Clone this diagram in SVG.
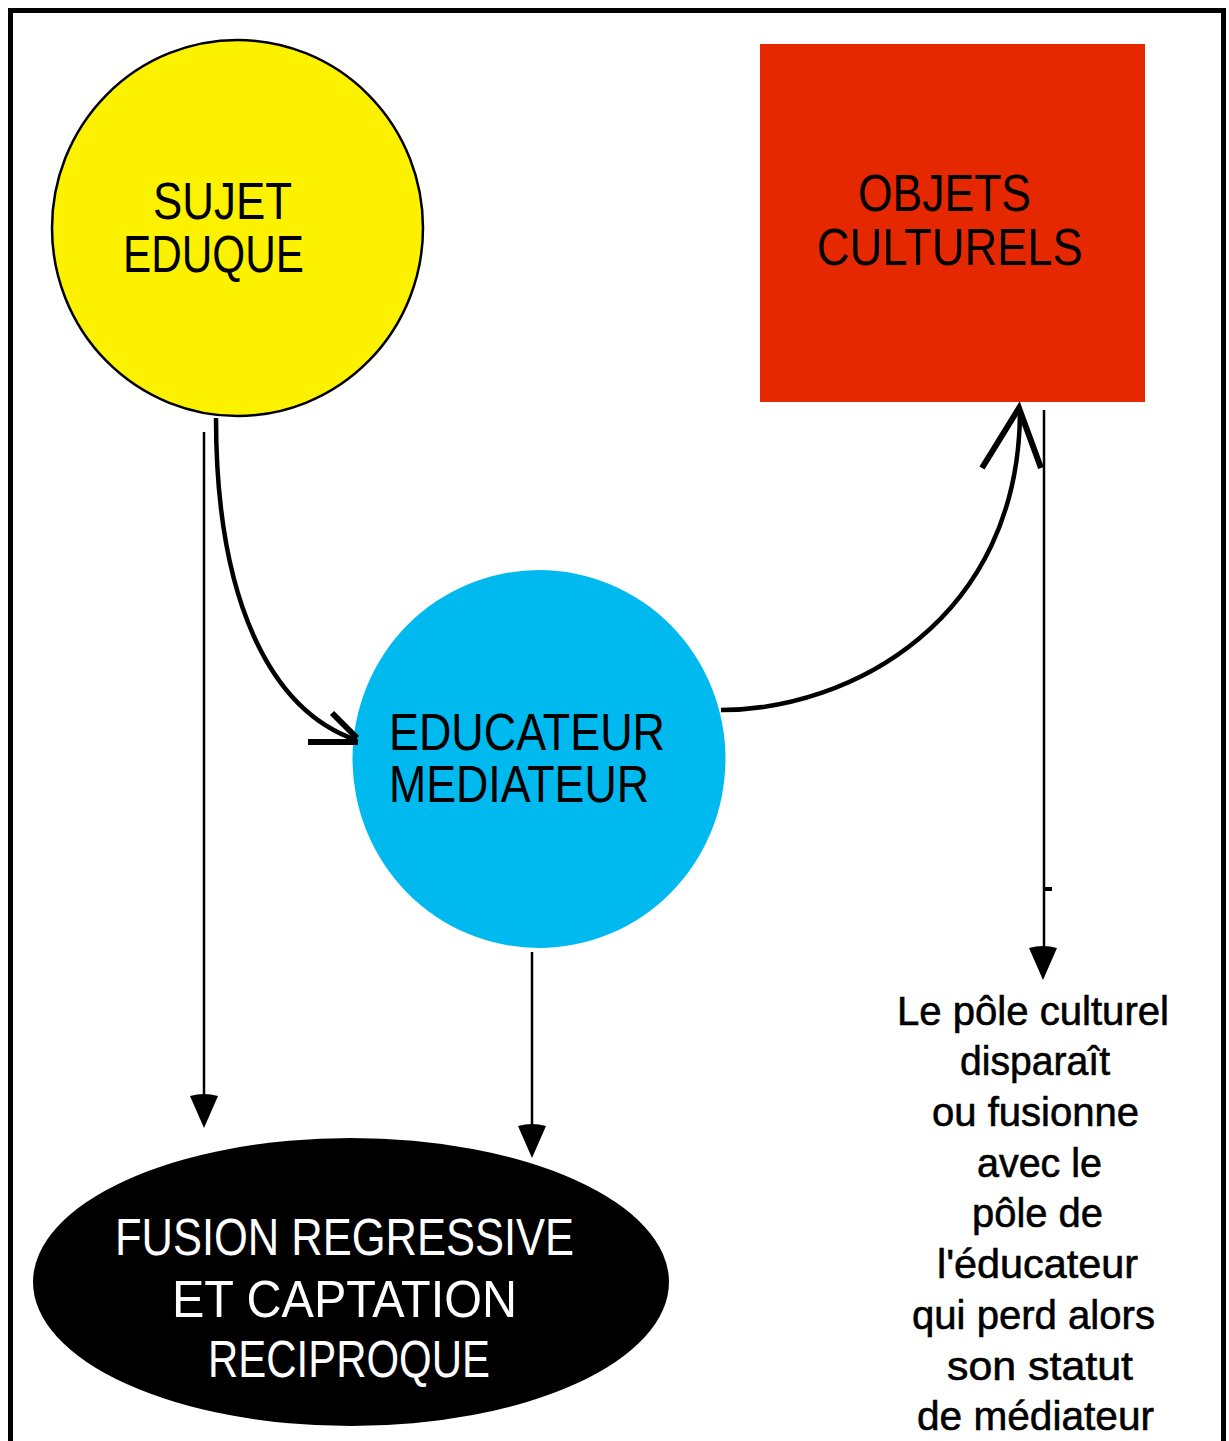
<svg xmlns="http://www.w3.org/2000/svg" width="1229" height="1441" viewBox="0 0 1229 1441">
<style>
.lbl{font-family:"Liberation Sans",Arial,sans-serif;font-size:51px;fill:#000}
.wht{fill:#fff}
.note{font-family:"Liberation Sans",Arial,sans-serif;font-size:40px;fill:#000;stroke:#000;stroke-width:0.6}
.ln{stroke:#000;stroke-width:2.5;fill:none}
.crv{stroke:#000;stroke-width:4.5;fill:none}
.ah{stroke:#000;stroke-width:6;fill:none}
.head{fill:#000}
</style>
<rect width="1229" height="1441" fill="#fff"/>
<path d="M10.5,1450 V10.5 H1223.5 V1450" fill="none" stroke="#000" stroke-width="5"/>
<g id="sujet">
<ellipse cx="237.5" cy="228" rx="185.5" ry="188" fill="#FCF200" stroke="#000" stroke-width="2.5"/>
<text class="lbl" x="153" y="219" textLength="139" lengthAdjust="spacingAndGlyphs">SUJET</text>
<text class="lbl" x="123" y="272" textLength="181" lengthAdjust="spacingAndGlyphs">EDUQUE</text>
</g>
<g id="objets">
<rect x="760" y="44" width="385" height="358" fill="#E52800"/>
<text class="lbl" x="858" y="211" textLength="173" lengthAdjust="spacingAndGlyphs">OBJETS</text>
<text class="lbl" x="817" y="265" textLength="266" lengthAdjust="spacingAndGlyphs">CULTURELS</text>
</g>
<g id="educateur">
<ellipse cx="539" cy="759" rx="186.5" ry="189" fill="#00B9EE"/>
<text class="lbl" x="389" y="750" textLength="276" lengthAdjust="spacingAndGlyphs">EDUCATEUR</text>
<text class="lbl" x="389" y="802" textLength="260" lengthAdjust="spacingAndGlyphs">MEDIATEUR</text>
</g>
<g id="fusion">
<ellipse cx="351" cy="1282" rx="318" ry="144" fill="#000"/>
<text class="lbl wht" x="115" y="1255" textLength="459" lengthAdjust="spacingAndGlyphs">FUSION REGRESSIVE</text>
<text class="lbl wht" x="172" y="1317" textLength="345" lengthAdjust="spacingAndGlyphs">ET CAPTATION</text>
<text class="lbl wht" x="208" y="1377" textLength="282" lengthAdjust="spacingAndGlyphs">RECIPROQUE</text>
</g>
<g id="note">
<text class="note" x="897" y="1025" textLength="272" lengthAdjust="spacingAndGlyphs">Le pôle culturel</text>
<text class="note" x="960" y="1075" textLength="150" lengthAdjust="spacingAndGlyphs">disparaît</text>
<text class="note" x="932" y="1126" textLength="207" lengthAdjust="spacingAndGlyphs">ou fusionne</text>
<text class="note" x="977" y="1177" textLength="125" lengthAdjust="spacingAndGlyphs">avec le</text>
<text class="note" x="972" y="1227" textLength="131" lengthAdjust="spacingAndGlyphs">pôle de</text>
<text class="note" x="937" y="1278" textLength="201" lengthAdjust="spacingAndGlyphs">l'éducateur</text>
<text class="note" x="912" y="1329" textLength="243" lengthAdjust="spacingAndGlyphs">qui perd alors</text>
<text class="note" x="947" y="1380" textLength="186" lengthAdjust="spacingAndGlyphs">son statut</text>
<text class="note" x="917" y="1430" textLength="237" lengthAdjust="spacingAndGlyphs">de médiateur</text>
</g>
<g id="connectors">
<line class="ln" x1="204" y1="432" x2="204" y2="1100"/>
<path class="head" d="M190,1096 Q204,1092 218,1096 L204,1128 Z"/>
<line class="ln" x1="532" y1="952" x2="532" y2="1130"/>
<path class="head" d="M518,1126 Q532,1122 546,1126 L532,1158 Z"/>
<line class="ln" x1="1044" y1="410" x2="1044" y2="950"/>
<rect x="1045" y="887" width="7" height="4" fill="#000"/>
<path class="head" d="M1029,948 Q1043,944 1057,948 L1043,980 Z"/>
<path class="crv" d="M216,418 C216,600 270,710 356,740"/>
<path class="ah" d="M332,713 L357,738 M308,742 L358,742"/>
<path class="crv" d="M721,710 C850,710 1020,620 1020,410"/>
<path class="ah" d="M982,468 L1019,408 L1041,468"/>
</g>
</svg>
